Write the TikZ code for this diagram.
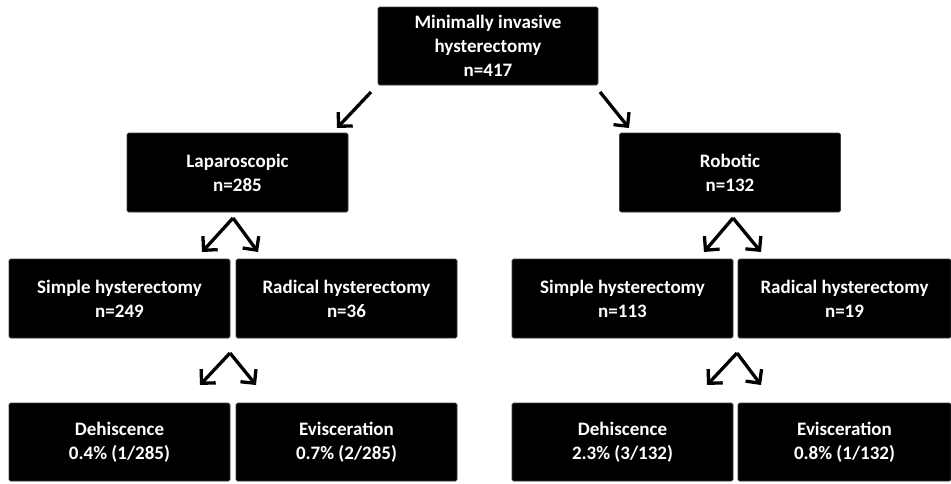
\documentclass[tikz,border=0pt]{standalone}
\usepackage{fontspec}
\setmainfont{Carlito}
\usetikzlibrary{arrows.meta}
\begin{document}
\begin{tikzpicture}[x=1pt,y=-1pt,
  blackbox/.style={fill=black,draw=black!75,line width=0.6pt,rounded corners=1.5pt,
    text=white,font=\fontsize{19}{24}\selectfont\bfseries,align=center,inner sep=0pt},
  arr/.style={line width=3.3pt,-{Straight Barb[length=10pt,width=20pt,line width=3.3pt]}}]
\useasboundingbox (0,0) rectangle (951,483);
\node[blackbox,minimum width=220pt,minimum height=78pt] (top) at (488,46) {Minimally invasive\\hysterectomy\\n=417};
\node[blackbox,minimum width=221pt,minimum height=79pt] (lap) at (237.5,172.5) {Laparoscopic\\n=285};
\node[blackbox,minimum width=221pt,minimum height=79pt] (rob) at (730,172.5) {Robotic\\n=132};
\node[blackbox,minimum width=221pt,minimum height=79pt] (sl) at (119.5,298.5) {Simple hysterectomy\\n=249};
\node[blackbox,minimum width=221pt,minimum height=79pt] (rl) at (346.5,298.5) {Radical hysterectomy\\n=36};
\node[blackbox,minimum width=221pt,minimum height=79pt] (sr) at (622.5,298.5) {Simple hysterectomy\\n=113};
\node[blackbox,minimum width=213pt,minimum height=79pt] (rr) at (844.5,298.5) {Radical hysterectomy\\n=19};
\node[blackbox,minimum width=221pt,minimum height=78pt] (dl) at (119.5,442) {Dehiscence\\0.4\% (1/285)};
\node[blackbox,minimum width=221pt,minimum height=78pt] (el) at (346.5,442) {Evisceration\\0.7\% (2/285)};
\node[blackbox,minimum width=221pt,minimum height=78pt] (dr) at (622.5,442) {Dehiscence\\2.3\% (3/132)};
\node[blackbox,minimum width=213pt,minimum height=78pt] (er) at (844.5,442) {Evisceration\\0.8\% (1/132)};
% arrow end points
\coordinate (t1) at (371,92);
\coordinate (t1e) at (337,128);
\coordinate (t2) at (600,92);
\coordinate (t2e) at (629,128);
\coordinate (ap1) at (233,218);
\coordinate (ap1l) at (202,252);
\coordinate (ap1r) at (258,252);
\coordinate (ap2) at (733,218);
\coordinate (ap2l) at (704,252);
\coordinate (ap2r) at (761,252);
\coordinate (ap3) at (230,353);
\coordinate (ap3l) at (200,385);
\coordinate (ap3r) at (256,385);
\coordinate (ap4) at (737,353);
\coordinate (ap4l) at (707,385);
\coordinate (ap4r) at (761,385);
\draw[arr] (t1) -- (t1e);
\draw[arr] (t2) -- (t2e);
\draw[arr] (ap1) -- (ap1l);
\draw[arr] (ap1) -- (ap1r);
\draw[arr] (ap2) -- (ap2l);
\draw[arr] (ap2) -- (ap2r);
\draw[arr] (ap3) -- (ap3l);
\draw[arr] (ap3) -- (ap3r);
\draw[arr] (ap4) -- (ap4l);
\draw[arr] (ap4) -- (ap4r);
\end{tikzpicture}
\end{document}
